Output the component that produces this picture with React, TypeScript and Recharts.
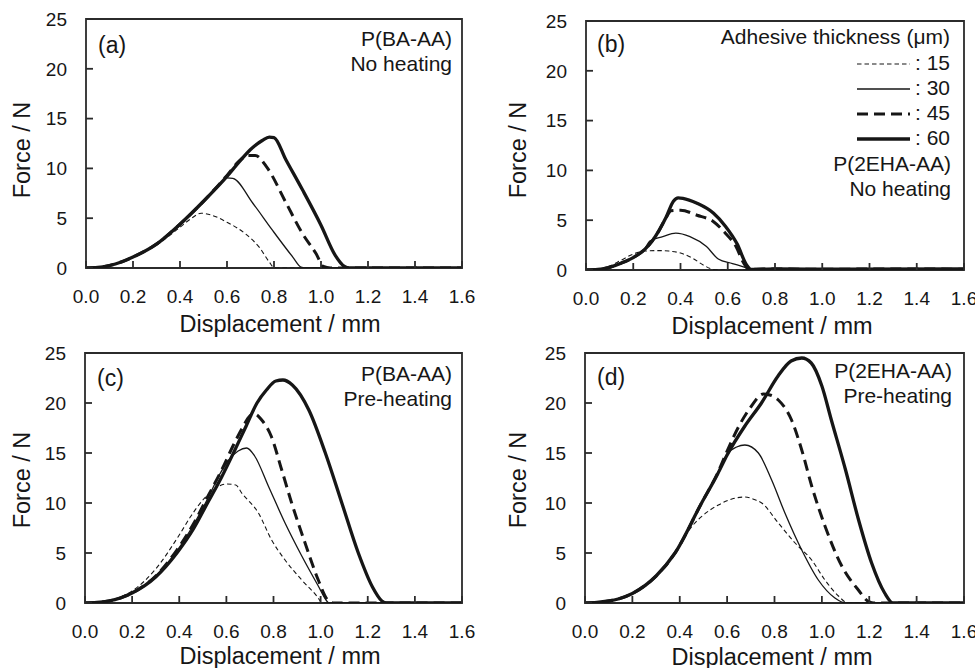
import React from 'react';
import { LineChart, Line, XAxis, YAxis, ReferenceArea, Legend, Label } from 'recharts';

type Pt = [number, number];

const FONT = '"Liberation Sans", Arial, Helvetica, sans-serif';
const INK = '#161616';
const FRAME = '#2b2b2b';

const xTicks = [0, 0.2, 0.4, 0.6, 0.8, 1.0, 1.2, 1.4, 1.6];
const yTicks = [0, 5, 10, 15, 20, 25];
const thicknesses = ['15', '30', '45', '60'];

const a15: Pt[] = [[0,0],[0.05,0.05],[0.1,0.25],[0.15,0.6],[0.2,1.1],[0.3,2.3],[0.4,4.1],[0.45,5.0],[0.49,5.5],[0.52,5.4],[0.6,4.6],[0.68,3.4],[0.74,2.0],[0.78,0.6],[0.8,0.05],[0.82,0],[1.6,0]];
const a30: Pt[] = [[0,0],[0.05,0.05],[0.1,0.25],[0.15,0.6],[0.2,1.1],[0.3,2.4],[0.4,4.4],[0.5,6.6],[0.56,8.2],[0.6,9.05],[0.625,9.0],[0.71,6.5],[0.79,3.9],[0.88,1.1],[0.915,0.1],[0.94,0],[1.6,0]];
const a45: Pt[] = [[0,0],[0.05,0.05],[0.1,0.25],[0.15,0.6],[0.2,1.1],[0.3,2.4],[0.4,4.4],[0.5,6.7],[0.6,9.3],[0.65,10.7],[0.69,11.3],[0.72,11.3],[0.77,10.1],[0.85,6.6],[0.92,3.5],[0.98,1.4],[1.01,0.15],[1.04,0],[1.6,0]];
const a60: Pt[] = [[0,0],[0.05,0.05],[0.1,0.25],[0.15,0.6],[0.2,1.1],[0.3,2.4],[0.4,4.4],[0.5,6.7],[0.6,9.2],[0.65,10.6],[0.7,11.9],[0.75,12.8],[0.78,13.15],[0.8,13.1],[0.85,10.9],[0.92,7.9],[1.0,4.3],[1.06,1.3],[1.1,0.15],[1.12,0],[1.6,0]];

const b15: Pt[] = [[0,0],[0.05,0.1],[0.1,0.4],[0.15,1.0],[0.2,1.6],[0.25,1.9],[0.3,1.95],[0.35,1.9],[0.4,1.7],[0.45,1.2],[0.5,0.45],[0.54,0.05],[0.57,0],[1.6,0]];
const b30: Pt[] = [[0,0],[0.05,0.05],[0.1,0.27],[0.15,0.7],[0.2,1.25],[0.25,2.2],[0.27,2.9],[0.325,3.35],[0.38,3.7],[0.44,3.35],[0.51,2.35],[0.56,1.1],[0.62,0.65],[0.68,0.2],[0.7,0],[1.6,0]];
const b45: Pt[] = [[0,0],[0.05,0.05],[0.1,0.27],[0.15,0.7],[0.2,1.25],[0.25,2.1],[0.28,2.9],[0.31,4.0],[0.34,5.3],[0.36,5.95],[0.4,6.0],[0.47,5.5],[0.54,4.85],[0.59,3.7],[0.635,2.35],[0.665,0.8],[0.69,0.05],[0.75,0.1],[1.0,0.08],[1.3,0.1],[1.6,0.08]];
const b60: Pt[] = [[0,0],[0.05,0.05],[0.1,0.27],[0.15,0.7],[0.2,1.25],[0.25,2.1],[0.28,2.9],[0.31,4.0],[0.34,5.35],[0.37,6.9],[0.39,7.25],[0.41,7.2],[0.47,6.7],[0.54,5.7],[0.59,4.4],[0.64,2.6],[0.68,0.5],[0.7,0.05],[0.8,0.1],[1.1,0.08],[1.6,0.1]];

const c15: Pt[] = [[0,0],[0.05,0.05],[0.1,0.25],[0.15,0.6],[0.2,1.2],[0.3,3.4],[0.4,6.8],[0.45,8.7],[0.5,10.3],[0.55,11.4],[0.6,11.9],[0.64,11.8],[0.665,11.0],[0.736,9.0],[0.792,6.3],[0.849,4.3],[0.92,2.3],[0.99,0.5],[1.005,0],[1.6,0]];
const c30: Pt[] = [[0,0],[0.05,0.05],[0.1,0.2],[0.15,0.5],[0.2,1.0],[0.3,2.7],[0.39,5.2],[0.46,7.8],[0.52,10.4],[0.57,12.8],[0.61,14.3],[0.65,15.2],[0.686,15.5],[0.72,14.7],[0.778,11.7],[0.849,8.0],[0.92,4.7],[0.99,1.7],[1.026,0.2],[1.035,0],[1.6,0]];
const c45: Pt[] = [[0,0],[0.05,0.05],[0.1,0.2],[0.15,0.5],[0.2,1.0],[0.3,2.7],[0.39,5.3],[0.46,7.9],[0.52,10.6],[0.58,13.3],[0.63,15.8],[0.67,17.6],[0.7,18.7],[0.72,18.9],[0.75,18.3],[0.79,16.7],[0.835,13.3],[0.877,10.0],[0.934,6.0],[0.99,2.3],[1.03,0.3],[1.055,0],[1.6,0]];
const c60: Pt[] = [[0,0],[0.05,0.05],[0.1,0.2],[0.15,0.5],[0.2,1.0],[0.3,2.6],[0.39,5.0],[0.46,7.4],[0.52,10.0],[0.58,12.6],[0.63,15.0],[0.68,17.5],[0.73,20.0],[0.77,21.3],[0.81,22.2],[0.84,22.3],[0.88,21.8],[0.95,19.3],[1.02,15.0],[1.09,10.0],[1.16,5.0],[1.22,1.6],[1.26,0.2],[1.28,0],[1.6,0]];

const d15: Pt[] = [[0,0],[0.05,0.05],[0.1,0.2],[0.14,0.4],[0.2,0.9],[0.3,2.6],[0.38,5.0],[0.42,6.6],[0.46,7.9],[0.5,8.8],[0.563,9.8],[0.62,10.4],[0.675,10.6],[0.72,10.3],[0.746,10.0],[0.816,8.0],[0.887,6.0],[0.957,4.3],[1.013,2.3],[1.07,0.7],[1.11,0],[1.6,0]];
const d30: Pt[] = [[0,0],[0.05,0.05],[0.1,0.2],[0.14,0.4],[0.2,0.95],[0.3,2.7],[0.38,5.0],[0.49,9.9],[0.56,13.0],[0.6,14.9],[0.64,15.6],[0.675,15.8],[0.732,15.0],[0.788,12.3],[0.844,9.0],[0.915,5.3],[0.985,2.3],[1.055,0.5],[1.1,0],[1.6,0]];
const d45: Pt[] = [[0,0],[0.05,0.05],[0.1,0.2],[0.14,0.4],[0.2,0.95],[0.3,2.7],[0.38,5.0],[0.49,9.9],[0.56,13.0],[0.6,15.2],[0.65,17.7],[0.7,19.6],[0.753,20.9],[0.78,20.8],[0.816,20.3],[0.872,18.3],[0.915,15.3],[0.957,11.7],[1.013,7.7],[1.084,3.7],[1.154,1.3],[1.2,0.1],[1.22,0],[1.6,0]];
const d60: Pt[] = [[0,0],[0.05,0.05],[0.1,0.2],[0.14,0.4],[0.2,0.95],[0.3,2.7],[0.38,5.0],[0.49,9.9],[0.56,12.9],[0.6,14.8],[0.675,17.7],[0.745,20.0],[0.815,22.7],[0.87,24.2],[0.915,24.5],[0.955,24.0],[1.0,21.7],[1.04,18.3],[1.1,13.3],[1.155,8.3],[1.21,4.0],[1.265,1.0],[1.3,0],[1.6,0]];

const STYLES: Record<string, { w: number; dash?: string }> = {
  '15': { w: 1.1, dash: '4.5 3' },
  '30': { w: 1.3 },
  '45': { w: 3, dash: '11 6' },
  '60': { w: 3.3 },
};

const toRows = (pts: Pt[]) => pts.map(([x, y]) => ({ x, y }));

const TICK_LEN = 7;
const Y_GAP = 19;
const X_GAP = 21;
const TICK_FONT = 19;

// Tick lines are drawn by Recharts itself (negative tickSize = inward ticks);
// the custom tick only renders the label text.
function YTick(props: any) {
  const { x, y, payload } = props;
  return (
    <text x={x} y={y} dy="0.36em" textAnchor="end" fontSize={TICK_FONT} fill={INK} fontFamily={FONT}>
      {payload.value}
    </text>
  );
}

function XTick(props: any) {
  const { x, y, payload } = props;
  return (
    <text x={x} y={y} dy="0.72em" textAnchor="middle" fontSize={TICK_FONT} fill={INK} fontFamily={FONT}>
      {Number(payload.value).toFixed(1)}
    </text>
  );
}

const makeYTitle = (cx: number, cy: number) => () => (
  <text x={cx} y={cy} dy="0.36em" transform={`rotate(-90 ${cx} ${cy})`} textAnchor="middle" fontSize={23.5} fill={INK} fontFamily={FONT}>
    Force / N
  </text>
);

const makeXTitle = (cx: number, by: number) => () => (
  <text x={cx} y={by} textAnchor="middle" fontSize={23.5} fill={INK} fontFamily={FONT}>
    Displacement / mm
  </text>
);

function LegendBox(props: any) {
  const payload = props.payload || [];
  return (
    <svg width={252} height={130} style={{ display: 'block', overflow: 'visible' }}>
      <text x={250} y={19} textAnchor="end" fontSize={21} fill={INK} fontFamily={FONT}>
        Adhesive thickness (μm)
      </text>
      {payload.map((entry: any, i: number) => {
        const s = STYLES[String(entry.value)] || { w: 1 };
        const yl = 39 + i * 25;
        const yt = 45 + i * 25;
        return (
          <g key={String(entry.value)}>
            <line x1={157} x2={210} y1={yl} y2={yl} stroke={INK} strokeWidth={s.w} strokeDasharray={s.dash} />
            <text x={250} y={yt} textAnchor="end" fontSize={21} fill={INK} fontFamily={FONT}>
              {': ' + entry.value}
            </text>
          </g>
        );
      })}
    </svg>
  );
}

type PanelCfg = {
  key: string;
  left: number;
  top: number;
  width: number;
  height: number;
  margin: { top: number; right: number; bottom: number; left: number };
  yW: number;
  xH: number;
  curves: Pt[][];
  yTitle: [number, number];
  xTitle: [number, number];
  legend: boolean;
};

const panels: PanelCfg[] = [
  { key: 'a', left: 0, top: 0, width: 480, height: 340, margin: { top: 19, right: 18, bottom: 8, left: 0 }, yW: 86, xH: 64, curves: [a15, a30, a45, a60], yTitle: [22, 150], xTitle: [280, 332], legend: false },
  { key: 'b', left: 480, top: 0, width: 495, height: 340, margin: { top: 21, right: 11, bottom: 6, left: 0 }, yW: 106, xH: 64, curves: [b15, b30, b45, b60], yTitle: [38, 150], xTitle: [292, 334], legend: true },
  { key: 'c', left: 0, top: 334, width: 480, height: 334, margin: { top: 19, right: 18, bottom: 4, left: 0 }, yW: 85, xH: 61, curves: [c15, c30, c45, c60], yTitle: [22, 146], xTitle: [280, 330], legend: false },
  { key: 'd', left: 480, top: 334, width: 495, height: 334, margin: { top: 19, right: 11, bottom: 4, left: 0 }, yW: 105, xH: 61, curves: [d15, d30, d45, d60], yTitle: [38, 146], xTitle: [292, 331], legend: false },
];

const panelTags = [
  { t: '(a)', x: 98, y: 53 },
  { t: '(b)', x: 597, y: 52 },
  { t: '(c)', x: 97, y: 386 },
  { t: '(d)', x: 597, y: 385 },
];

const panelNotes = [
  { lines: ['P(BA-AA)', 'No heating'], x: 452, y: 46 },
  { lines: ['P(2EHA-AA)', 'No heating'], x: 951, y: 171 },
  { lines: ['P(BA-AA)', 'Pre-heating'], x: 452, y: 381 },
  { lines: ['P(2EHA-AA)', 'Pre-heating'], x: 952, y: 378 },
];

function Panel({ cfg }: { cfg: PanelCfg }) {
  return (
    <div style={{ position: 'absolute', left: cfg.left, top: cfg.top }}>
      <LineChart width={cfg.width} height={cfg.height} margin={cfg.margin}>
        <ReferenceArea x1={0} x2={1.6} y1={0} y2={25} fill="none" fillOpacity={0} stroke={FRAME} strokeWidth={1.8} ifOverflow="visible" />
        <XAxis
          type="number"
          dataKey="x"
          domain={[0, 1.6]}
          ticks={xTicks}
          allowDataOverflow
          height={cfg.xH}
          axisLine={false}
          tickLine={{ stroke: FRAME, strokeWidth: 1.8 }}
          tickSize={-TICK_LEN}
          tickMargin={X_GAP + TICK_LEN}
          tick={XTick}
          interval={0}
          label={<Label content={makeXTitle(cfg.xTitle[0], cfg.xTitle[1])} />}
        />
        <YAxis
          type="number"
          domain={[0, 25]}
          ticks={yTicks}
          allowDataOverflow
          width={cfg.yW}
          axisLine={false}
          tickLine={{ stroke: FRAME, strokeWidth: 1.8 }}
          tickSize={-TICK_LEN}
          tickMargin={Y_GAP + TICK_LEN}
          tick={YTick}
          interval={0}
          label={<Label content={makeYTitle(cfg.yTitle[0], cfg.yTitle[1])} />}
        />
        {cfg.curves.map((pts, i) => {
          const name = thicknesses[i];
          const s = STYLES[name];
          return (
            <Line
              key={name}
              name={name}
              data={toRows(pts)}
              dataKey="y"
              type="monotone"
              stroke={INK}
              strokeWidth={s.w}
              strokeDasharray={s.dash}
              dot={false}
              activeDot={false}
              isAnimationActive={false}
            />
          );
        })}
        {cfg.legend ? (
          <Legend
            layout="horizontal"
            verticalAlign="middle"
            align="center"
            content={LegendBox}
            wrapperStyle={{ left: 220, top: 25, width: 252, height: 130 }}
          />
        ) : null}
      </LineChart>
    </div>
  );
}

export default function App() {
  return (
    <div style={{ position: 'absolute', left: 0, top: 0, width: 975, height: 668, background: '#fff', fontFamily: FONT, overflow: 'hidden' }}>
      {panels.map((p) => (
        <Panel key={p.key} cfg={p} />
      ))}
      <svg width={975} height={668} style={{ position: 'absolute', left: 0, top: 0, pointerEvents: 'none' }}>
        {panelTags.map((t) => (
          <text key={t.t} x={t.x} y={t.y} fontSize={23} fill={INK} fontFamily={FONT}>
            {t.t}
          </text>
        ))}
        {panelNotes.map((n, i) =>
          n.lines.map((ln, j) => (
            <text key={i + '-' + j} x={n.x} y={n.y + j * 25} textAnchor="end" fontSize={21} fill={INK} fontFamily={FONT}>
              {ln}
            </text>
          ))
        )}
      </svg>
    </div>
  );
}
